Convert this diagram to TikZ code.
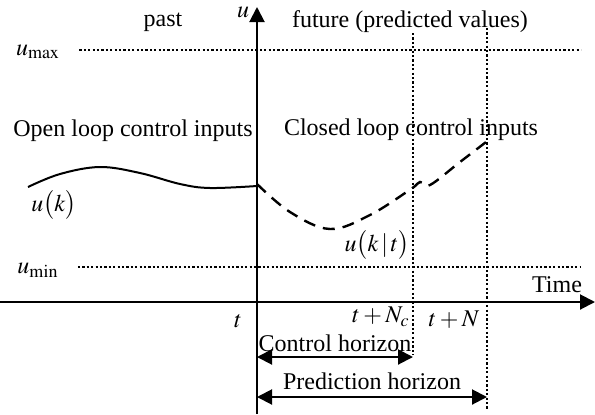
\documentclass[tikz,border=0pt]{standalone}
\usepackage{mathptmx}
\usepackage[no-math]{fontspec}
\setmainfont{Liberation Serif}
\usetikzlibrary{arrows.meta, positioning}

\begin{document}
\begin{tikzpicture}[x=0.5pt, y=-0.5pt,
  font=\fontsize{12}{14}\selectfont,
  axisline/.style={-{Triangle[length=7.5pt, width=7.5pt]}, line width=1pt},
  boundline/.style={line width=1.1pt, dash pattern=on 1.1pt off 1.1pt},
  horizon/.style={{Triangle[length=7.5pt, width=7.5pt]}-{Triangle[length=7.5pt, width=7.5pt]}, line width=1pt},
  lbl/.style={inner sep=0pt}]
  \useasboundingbox (0,0) rectangle (595,414);

  % Axes
  \coordinate (tleft) at (0,302);
  \coordinate (tright) at (595,302);
  \coordinate (ubottom) at (257,414);
  \coordinate (utop) at (257,7);
  \draw[axisline] (tleft) -- (tright);
  \draw[axisline] (ubottom) -- (utop);
  \node[lbl] (ulabel) at (243,12) {$u$};
  \node[lbl] (timelabel) at (557,285) {Time};

  % Bounds
  \node[lbl] (umax) at (38,52) {$u_{\max}$};
  \node[lbl] (umin) at (38,270) {$u_{\min}$};
  \coordinate (umaxend) at (581,50);
  \coordinate (uminend) at (581,267);
  \draw[boundline] (umax.east) ++(19,-2) coordinate (umaxstart) -- (umaxend);
  \draw[boundline] (umin.east) ++(19,-3) coordinate (uminstart) -- (uminend);

  % Horizon limits
  \coordinate (nctop) at (413,33);
  \coordinate (ncbottom) at (413,355);
  \coordinate (ntop) at (487,28);
  \coordinate (nbottom) at (487,410);
  \draw[boundline] (nctop) -- (ncbottom);
  \draw[boundline] (ntop) -- (nbottom);

  % Region labels
  \node[lbl] (past) at (163,22) {past};
  \node[lbl] (future) at (410,22) {future (predicted values)};
  \node[lbl] (openloop) at (133,131) {Open loop control inputs};
  \node[lbl] (closedloop) at (411,130) {Closed loop control inputs};

  % Past inputs
  \draw[line width=1pt] plot[smooth, tension=0.6] coordinates
    {(28,187) (60,174) (100,167) (140,173) (180,184) (210,188) (257,186)};
  \node[lbl] (uk) at (54,205) {$u\bigl(k\bigr)$};

  % Predicted inputs
  \draw[line width=1.2pt, dash pattern=on 6pt off 4pt] plot[smooth, tension=0.6] coordinates
    {(257,184) (290,212) (330,229) (370,215) (411,189) (420,182) (430,185) (460,162) (490,139)};
  \node[lbl] (ukt) at (377,245) {$u\bigl(k\,|\,t\bigr)$};

  % Time marks
  \node[lbl] (tnow) at (238,321) {$t$};
  \node[lbl] (tnc) at (381,317) {$t+N_c$};
  \node[lbl] (tn) at (454,320) {$t+N$};

  % Horizons
  \coordinate (chstart) at (257,357);
  \coordinate (chend) at (413,357);
  \coordinate (phstart) at (257,397);
  \coordinate (phend) at (487,397);
  \draw[horizon] (chstart) -- node[lbl, above=2pt] (ctrlh) {Control horizon} (chend);
  \draw[horizon] (phstart) -- node[lbl, above=3pt] (predh) {Prediction horizon} (phend);
\end{tikzpicture}
\end{document}
